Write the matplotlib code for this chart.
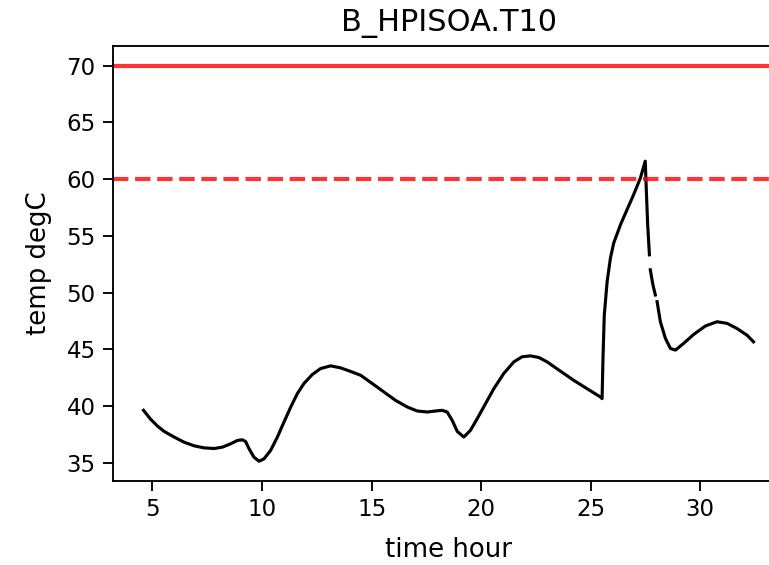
import numpy as np
import matplotlib
matplotlib.use("Agg")
import matplotlib.pyplot as plt

nan = np.nan
time_hour = [
    4.59, 4.92, 5.23, 5.53, 5.99, 6.44, 6.90, 7.35, 7.81, 8.19, 8.57, 8.87, 9.10, 9.25,
    9.41, 9.63, 9.86, 10.09, 10.39, 10.70, 11.00, 11.31, 11.61, 11.91, 12.29, 12.67,
    13.13, 13.59, 14.04, 14.50, 15.03, 15.56, 16.09, 16.63, 17.08, 17.54, 17.92, 18.22,
    18.45, 18.68, 18.91, 19.21, 19.51, 19.82, 20.20, 20.58, 21.03, 21.49, 21.87, 22.25,
    22.63, 23.01, 23.62, 24.22, 24.83, 25.44, 25.52, 25.56, 25.62, 25.75, 25.90, 26.05,
    26.36, 26.66, 26.96, 27.27, 27.49, 27.54, 27.60, 27.68, 27.70, 27.72, 27.84, 27.95,
    27.99, 28.03, 28.18, 28.41, 28.64, 28.87, 29.24, 29.70, 30.23, 30.76, 31.22, 31.67,
    32.13, 32.43,
]
temp_degC = [
    39.62, 38.82, 38.23, 37.76, 37.26, 36.81, 36.49, 36.31, 36.25, 36.37, 36.67, 36.96, 37.02, 36.87,
    36.22, 35.49, 35.13, 35.34, 36.08, 37.26, 38.58, 39.91, 41.09, 41.98, 42.77, 43.30,
    43.54, 43.36, 43.05, 42.71, 41.98, 41.24, 40.50, 39.91, 39.56, 39.47, 39.56, 39.62,
    39.47, 38.73, 37.76, 37.26, 37.85, 38.88, 40.21, 41.53, 42.86, 43.89, 44.34, 44.42,
    44.28, 43.89, 43.07, 42.27, 41.53, 40.80, 40.65, 44.19, 48.02, 50.97, 53.04, 54.37,
    55.99, 57.32, 58.64, 60.12, 61.59, 58.94, 55.99, 53.33, nan, 52.01, 50.68, 49.79,
    nan, 49.20, 47.43, 45.96, 45.07, 44.93, 45.52, 46.31, 47.05, 47.43, 47.29, 46.84,
    46.25, 45.66,
]
alarm_high = 70
alarm_warn = 60

fig = plt.figure(figsize=(769 / 150, 565 / 150), dpi=150)
ax = fig.add_axes([113 / 769, 1 - 481 / 565, (784 - 113) / 769, (481 - 46) / 565])
ax.patch.set_visible(False)
ax.plot(time_hour, temp_degC, color="black", lw=1.5)
ax.axhline(alarm_high, color="red", lw=2, alpha=0.8)
ax.axhline(alarm_warn, color="red", lw=2, ls="--", alpha=0.8)
ax.set_title("B_HPISOA.T10", fontsize=14.6, pad=7)
ax.set_xlabel("time hour", fontsize=12.5, labelpad=7.5)
ax.set_ylabel("temp degC", fontsize=12.5, labelpad=7)
ax.tick_params(labelsize=11, length=4.6, width=0.9, pad=3.8)
ax.spines["right"].set_visible(False)
for s in ax.spines.values():
    s.set_linewidth(0.9)
fig.savefig("out.png", dpi=150)
